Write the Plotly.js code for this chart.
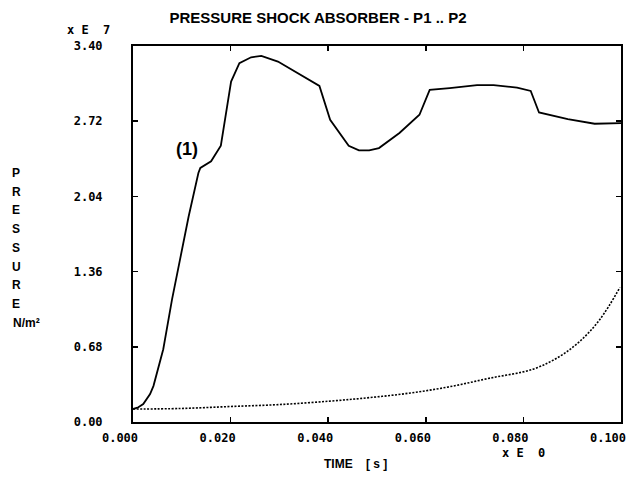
<!DOCTYPE html>
<html>
<head>
<meta charset="utf-8">
<script src="https://cdn.plot.ly/plotly-3.0.1.min.js"></script>
<style>html,body{margin:0;padding:0;background:#fff;}#chart{width:644px;height:477px;}</style>
</head>
<body>
<div id="chart"></div>
<script>
// Time [s] and pressure (x 1E7 N/m^2)
const p1Time = [0.0000, 0.0011, 0.0021, 0.0035, 0.0042, 0.0062, 0.0080, 0.0114, 0.0134, 0.0138, 0.0160, 0.0180, 0.0201, 0.0218, 0.0242, 0.0263, 0.0297, 0.0339, 0.0382, 0.0404, 0.0442, 0.0463, 0.0484, 0.0504, 0.0546, 0.0587, 0.0608, 0.0649, 0.0705, 0.0739, 0.0787, 0.0815, 0.0832, 0.0891, 0.0946, 0.1000];
const p1Pressure = [0.117, 0.133, 0.162, 0.253, 0.327, 0.658, 1.109, 1.858, 2.252, 2.297, 2.357, 2.498, 3.078, 3.244, 3.298, 3.310, 3.259, 3.154, 3.039, 2.733, 2.498, 2.456, 2.456, 2.477, 2.613, 2.778, 3.003, 3.019, 3.046, 3.046, 3.024, 2.994, 2.799, 2.739, 2.697, 2.703];
const p2Time = [0.0000, 0.0096, 0.0199, 0.0301, 0.0404, 0.0486, 0.0568, 0.0650, 0.0732, 0.0820, 0.0875, 0.0916, 0.0957, 0.0998];
const p2Pressure = [0.117, 0.122, 0.140, 0.158, 0.189, 0.221, 0.262, 0.320, 0.397, 0.478, 0.595, 0.731, 0.929, 1.218];
const xTicks = [0, 0.02, 0.04, 0.06, 0.08, 0.10];
const xTickText = ['0.000', '0.020', '0.040', '0.060', '0.080', '0.100'];
const yTicks = [0, 0.68, 1.36, 2.04, 2.72, 3.40];
const yTickText = ['0.00', '0.68', '1.36', '2.04', '2.72', '3.40'];
const yTitleLetters = 'PRESSURE';

const ink = '#000';
const tickFont = {family: 'DejaVu Sans Mono, monospace', size: 12, color: ink, weight: 'bold'};
const sans = 'Liberation Sans, Arial, sans-serif';
const labelFont = {family: sans, size: 12, color: ink, weight: 'bold'};

const traces = [
  {x: p1Time, y: p1Pressure, mode: 'lines', line: {color: ink, width: 1.8}, name: 'P1'},
  {x: p2Time, y: p2Pressure, mode: 'lines', line: {color: ink, width: 1.6, dash: '2px,1.5px', shape: 'spline'}, name: 'P2'}
];

const annotations = [
  {xref: 'paper', yref: 'paper', x: -68/488, y: 1 + 16/376, xanchor: 'left', yanchor: 'middle', text: 'x E  7', showarrow: false, font: tickFont},
  {xref: 'paper', yref: 'paper', x: (500-133)/488, y: -31/376, xanchor: 'left', yanchor: 'middle', text: 'x E  0', showarrow: false, font: tickFont},
  {xref: 'paper', yref: 'paper', x: (355-133)/488, y: -42/376, xanchor: 'center', yanchor: 'middle', text: 'TIME&nbsp;&nbsp;&nbsp;&nbsp;[ s ]', showarrow: false, font: labelFont},
  {xref: 'paper', yref: 'paper', x: (26-133)/488, y: (423-324)/376, xanchor: 'center', yanchor: 'middle', text: 'N/m²', showarrow: false, font: labelFont},
  {xref: 'paper', yref: 'paper', x: (187-133)/488, y: (423-150)/376, xanchor: 'center', yanchor: 'middle', text: '(1)', showarrow: false, font: {family: sans, size: 18, color: ink, weight: 'bold'}}
];
for (let i = 0; i < yTitleLetters.length; i++) {
  annotations.push({xref: 'paper', yref: 'paper', x: (16-133)/488, y: (423-(174 + i*18.7))/376, xanchor: 'center', yanchor: 'middle', text: yTitleLetters[i], showarrow: false, font: labelFont});
}

const layout = {
  width: 644, height: 477,
  margin: {l: 133, r: 23, t: 46, b: 55},
  paper_bgcolor: '#fff', plot_bgcolor: '#fff',
  showlegend: false,
  title: {text: 'PRESSURE SHOCK ABSORBER - P1 .. P2', font: {family: sans, size: 15, color: ink, weight: 'bold'}, xref: 'container', x: 318/644, xanchor: 'center', yref: 'container', y: 1 - 18/477, yanchor: 'middle'},
  xaxis: {range: [0, 0.1], tickvals: xTicks, ticktext: xTickText, showgrid: false, zeroline: false, showline: true, linecolor: ink, linewidth: 2, mirror: 'ticks', ticks: 'inside', ticklen: 5, tickwidth: 1.5, tickcolor: ink, tickfont: tickFont, ticklabelshift: -13, ticklabelstandoff: 4},
  yaxis: {range: [0, 3.4], tickvals: yTicks, ticktext: yTickText, showgrid: false, zeroline: false, showline: true, linecolor: ink, linewidth: 2, mirror: 'ticks', ticks: 'inside', ticklen: 5, tickwidth: 1.5, tickcolor: ink, tickfont: tickFont, ticklabelstandoff: 26},
  annotations: annotations
};

Plotly.newPlot('chart', traces, layout, {displayModeBar: false, staticPlot: true});
</script>
</body>
</html>
